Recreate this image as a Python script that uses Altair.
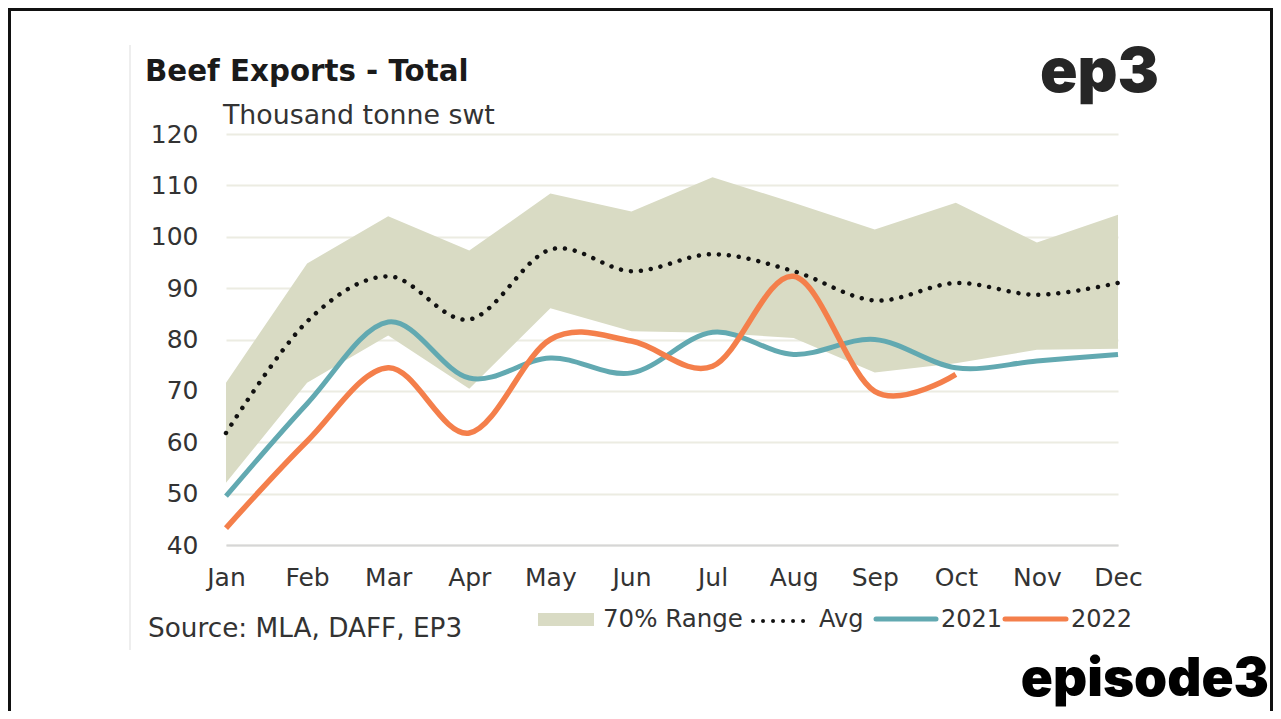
import altair as alt
import pandas as pd

months = ["Jan", "Feb", "Mar", "Apr", "May", "Jun", "Jul", "Aug", "Sep", "Oct", "Nov", "Dec"]
band_low = [52.1, 71.6, 80.8, 70.4, 86.1, 81.6, 81.3, 80.3, 73.6, 75.4, 78.0, 78.2]
band_high = [71.6, 94.8, 104.0, 97.3, 108.4, 104.9, 111.6, 106.6, 101.4, 106.6, 98.9, 104.3]
avg = [61.8, 83.5, 92.3, 83.9, 97.5, 93.3, 96.6, 93.3, 87.6, 91.0, 88.7, 91.0]
y2021 = [49.5, 67.5, 83.4, 72.5, 76.4, 73.5, 81.4, 77.1, 80.0, 74.5, 75.8, 77.1]
y2022 = [43.3, 60.2, 74.5, 61.8, 80.0, 79.7, 74.8, 92.3, 69.9, 73.2, None, None]
y_ticks = [40, 50, 60, 70, 80, 90, 100, 110, 120]

title_text = "Beef Exports - Total"
subtitle_text = "Thousand tonne swt"
source_text = "Source: MLA, DAFF, EP3"
legend_labels = ["70% Range", "Avg", "2021", "2022"]
logo_top = "ep3"
logo_bottom = "episode3"

FONT = "DejaVu Sans"
BAND = "#d9dbc4"
TEAL = "#62a9b1"
ORANGE = "#f47f4b"
TXT = "#333333"

df = pd.DataFrame({"month": months, "low": band_low, "high": band_high,
                   "avg": avg, "y2021": y2021, "y2022": y2022})

xs = alt.Scale(type="point", padding=0)
ys = alt.Scale(domain=[40, 120])

x_axis = alt.Axis(title=None, labelAngle=0, labelPadding=20, labelFontSize=25,
                  labelFont=FONT, labelColor=TXT, ticks=False, domain=True,
                  domainColor="#d6d6d6", domainWidth=2, grid=False)
y_axis = alt.Axis(title=None, values=y_ticks, labelPadding=28, labelFontSize=25,
                  labelFont=FONT, labelColor=TXT, ticks=False, domain=False,
                  grid=True, gridColor="#ecece2", gridWidth=2)

X = alt.X("month:O", sort=months, scale=xs, axis=x_axis)


def Y(field):
    return alt.Y(field, type="quantitative", scale=ys, axis=y_axis)


band = alt.Chart(df).mark_area(color=BAND, opacity=1).encode(
    x=X, y=Y("low"), y2="high:Q")

avg_line = alt.Chart(df).mark_line(color="#111111", strokeWidth=4.5, strokeCap="round",
                                   strokeDash=[0.01, 10], interpolate="cardinal").encode(
    x=X, y=Y("avg"))

l2021 = alt.Chart(df).mark_line(color=TEAL, strokeWidth=5, interpolate="cardinal").encode(
    x=X, y=Y("y2021"))

l2022 = alt.Chart(df).mark_line(color=ORANGE, strokeWidth=5.5, interpolate="cardinal").encode(
    x=X, y=Y("y2022"))


def txt(s, x, y, size, weight="normal", align="left", color=TXT, font=FONT):
    return alt.Chart(pd.DataFrame({"t": [s]})).mark_text(
        align=align, baseline="alphabetic", fontSize=size, fontWeight=weight,
        font=font, color=color).encode(x=alt.value(x), y=alt.value(y), text="t:N")


one = pd.DataFrame({"k": [0]})

frame = alt.Chart(one).mark_rect(fill="transparent", stroke="#111111", strokeWidth=3).encode(
    x=alt.value(-216.5), x2=alt.value(1045.5), y=alt.value(-124.5), y2=alt.value(700))
side_line = alt.Chart(one).mark_rule(color="#dddddd", strokeWidth=1).encode(
    x=alt.value(-96), y=alt.value(-89), y2=alt.value(516))

leg_rect = alt.Chart(one).mark_rect(color=BAND).encode(
    x=alt.value(312), x2=alt.value(368), y=alt.value(479), y2=alt.value(492))
leg_avg = alt.Chart(one).mark_rule(color="#111111", strokeWidth=4, strokeCap="round",
                                   strokeDash=[0.01, 10]).encode(
    x=alt.value(527), x2=alt.value(583), y=alt.value(487))
leg_2021 = alt.Chart(one).mark_rule(color=TEAL, strokeWidth=5, strokeCap="round").encode(
    x=alt.value(650), x2=alt.value(710), y=alt.value(485))
leg_2022 = alt.Chart(one).mark_rule(color=ORANGE, strokeWidth=5, strokeCap="round").encode(
    x=alt.value(779), x2=alt.value(840), y=alt.value(485))

layers = [
    frame, side_line, band, avg_line, l2021, l2022,
    txt(title_text, -81, -53, 29.3, weight="bold", color="#1a1a1a"),
    txt(subtitle_text, -3, -10, 26.8),
    txt(source_text, -78, 503, 26.3),
    leg_rect, leg_avg, leg_2021, leg_2022,
    txt(legend_labels[0], 377, 493, 24.5),
    txt(legend_labels[1], 593, 493, 24),
    txt(legend_labels[2], 715, 493, 24),
    txt(legend_labels[3], 845, 493, 24),
    txt(logo_top, 933, -42, 62, weight=900, align="right", color="#262626", font="Inter"),
    txt(logo_bottom, 1043, 562, 53, weight=900, align="right", color="#000000", font="Inter"),
]

chart = alt.layer(*layers).properties(
    width=892, height=411,
    padding={"left": 218, "top": 126, "right": 155, "bottom": 166},
    autosize=alt.AutoSizeParams(type="none"),
    background="white",
).configure_view(stroke="transparent", strokeWidth=0)

chart.save("out.html", embed_options={"renderer": "svg", "actions": False})
